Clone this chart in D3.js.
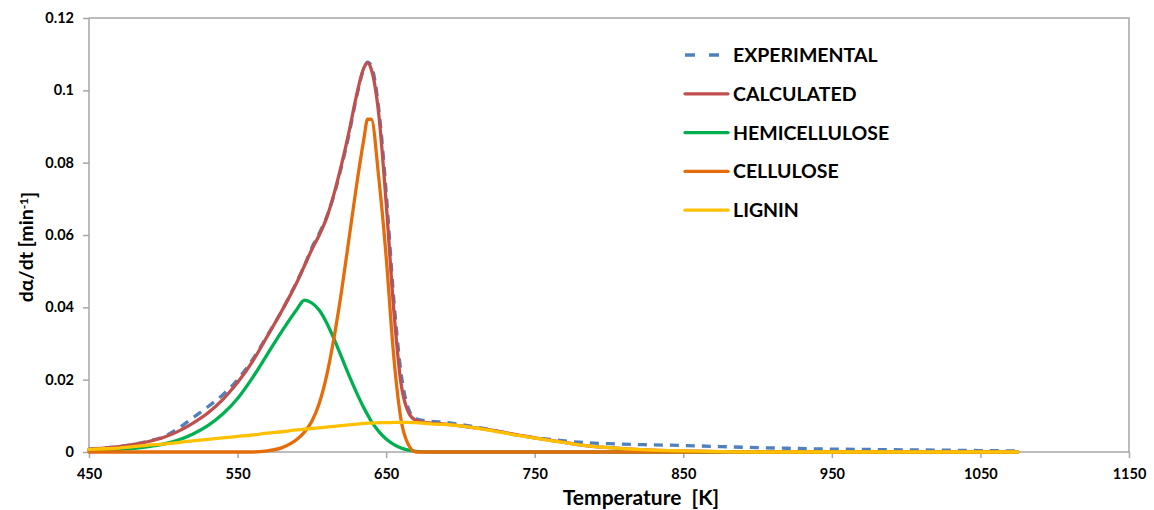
<!DOCTYPE html>
<html>
<head>
<meta charset="utf-8">
<script src="https://cdn.jsdelivr.net/npm/d3@7"></script>
<style>
body { margin: 0; background: #fff; }
text { font-family: Lato, "Liberation Sans", sans-serif; font-weight: bold; fill: #000; }
</style>
</head>
<body>
<div id="chart"></div>
<script>
// temperatures [K] shared by all series
var temps = [450,460,470,480,490,500,510,520,530,540,550,560,570,580,590,595,600,605,610,615,620,625,630,635,637.5,640,645,650,655,660,665,670,680,690,700,720,740,760,780,800,825,850,875,900,925,950,975,1000,1025,1050,1075];

var experimental = [0.0008,0.0011,0.0015,0.0021,0.0030,0.0042,0.0065,0.0095,0.0125,0.0158,0.0200,0.0255,0.0322,0.0392,0.0472,0.0515,0.0565,0.0605,0.0650,0.0712,0.0790,0.0878,0.0980,0.1060,0.1078,0.1068,0.0950,0.0720,0.0430,0.0220,0.0120,0.0092,0.0085,0.0082,0.0076,0.0062,0.0045,0.0035,0.0027,0.0023,0.0020,0.0018,0.0015,0.0012,0.0010,0.0008,0.0007,0.0006,0.0005,0.0004,0.0003];

var calculated = [0.0008,0.0011,0.0015,0.0021,0.0029,0.0040,0.0057,0.0080,0.0108,0.0145,0.0192,0.0250,0.0320,0.0392,0.0470,0.0515,0.0560,0.0600,0.0648,0.0715,0.0795,0.0885,0.0985,0.1062,0.1076,0.1058,0.0935,0.0690,0.0400,0.0190,0.0110,0.0088,0.0080,0.0077,0.0072,0.0061,0.0046,0.0033,0.0020,0.0012,0.0006,0.0003,0.0001,0,0,0,0,0,0,0,0];

var hemicellulose = [0.0004,0.0005,0.0007,0.0010,0.0015,0.0022,0.0033,0.0050,0.0073,0.0105,0.0148,0.0205,0.0270,0.0335,0.0395,0.0420,0.0412,0.0392,0.0357,0.0312,0.0262,0.0212,0.0165,0.0122,0.0103,0.0085,0.0057,0.0036,0.0021,0.0011,0.0005,0.0002,0,0,0,0,0,0,0,0,0,0,0,0,0,0,0,0,0,0,0];

var cellulose = [0,0,0,0,0,0,0,0,0,0,0,0,0.0003,0.0012,0.0035,0.0055,0.0085,0.0135,0.0212,0.0318,0.0445,0.0590,0.0735,0.0865,0.0920,0.0920,0.0760,0.0540,0.0270,0.0090,0.0020,0,0,0,0,0,0,0,0,0,0,0,0,0,0,0,0,0,0,0,0];

var lignin = [0.0007,0.0009,0.0011,0.0015,0.0019,0.0022,0.0026,0.0031,0.0035,0.0039,0.0043,0.0047,0.0052,0.0056,0.0061,0.0063,0.0065,0.0067,0.0069,0.0071,0.0073,0.0075,0.0077,0.0079,0.0080,0.0080,0.0081,0.0081,0.0082,0.0082,0.0082,0.0081,0.0078,0.0076,0.0072,0.0060,0.0045,0.0032,0.0020,0.0012,0.0006,0.0003,0.0001,0,0,0,0,0,0,0,0];

var seriesNames = ["EXPERIMENTAL","CALCULATED","HEMICELLULOSE","CELLULOSE","LIGNIN"];
var seriesColors = ["#4F81BD","#C0504D","#00B050","#E46C0A","#FFC000"];
var xTicks = [450,550,650,750,850,950,1050,1150];
var yTicks = [0,0.02,0.04,0.06,0.08,0.1,0.12];

function init(){

    var w = 1154;
    var h = 510;
    var left = 89, top = 18, right = 1129, bottom = 452;

    var svg = d3.select("#chart")
        .append("svg")
        .attr("width", w)
        .attr("height", h);

    var x = d3.scaleLinear().domain([450, 1150]).range([left, right]);
    var y = d3.scaleLinear().domain([0, 0.12]).range([bottom, top]);

    // plot border (top and right)
    svg.append("path")
        .attr("d", "M" + left + "," + top + "H" + right + "V" + bottom)
        .attr("fill", "none")
        .attr("stroke", "#A6A6A6")
        .attr("stroke-width", 1.5);

    var yAxis = svg.append("g")
        .attr("transform", "translate(" + left + ",0)")
        .call(d3.axisLeft(y).tickValues(yTicks).tickSize(6).tickPadding(9)
            .tickFormat(function(d){ return String(+d.toFixed(2)); }));

    var xAxis = svg.append("g")
        .attr("transform", "translate(0," + bottom + ")")
        .call(d3.axisBottom(x).tickValues(xTicks).tickSize(6).tickPadding(11)
            .tickFormat(d3.format("d")));

    [xAxis, yAxis].forEach(function(g){
        g.selectAll("path, line").attr("stroke", "#A6A6A6").attr("stroke-width", 1.5);
        g.selectAll("text").style("font-size", "14.5px").attr("fill", "#000");
    });
    // no outer stubs on the domain lines
    yAxis.select(".domain").attr("d", "M0," + top + "V" + bottom);
    xAxis.select(".domain").attr("d", "M" + left + ",0H" + right);

    var seriesData = [experimental, calculated, hemicellulose, cellulose, lignin];

    var line = d3.line()
        .x(function(d, i){ return x(temps[i]); })
        .y(function(d){ return y(d); })
        .curve(d3.curveMonotoneX);

    seriesData.forEach(function(vals, k){
        var p = svg.append("path")
            .datum(vals)
            .attr("d", line)
            .attr("fill", "none")
            .attr("stroke", seriesColors[k])
            .attr("stroke-width", 3.3)
            .attr("stroke-linejoin", "round")
            .attr("stroke-linecap", "round");
        if(k == 0){
            p.attr("stroke-dasharray", "9,7").attr("stroke-linecap", "butt");
        }
    });

    // legend
    var legend = svg.selectAll(".legend")
        .data(seriesNames)
        .enter()
        .append("g")
        .attr("transform", function(d, i){ return "translate(685," + (55 + i * 38.8) + ")"; });

    legend.append("line")
        .attr("x1", 0).attr("x2", 43)
        .attr("stroke", function(d, i){ return seriesColors[i]; })
        .attr("stroke-width", 3.3)
        .attr("stroke-linecap", function(d, i){ return i == 0 ? "butt" : "round"; })
        .attr("stroke-dasharray", function(d, i){ return i == 0 ? "10,14" : null; });

    legend.append("text")
        .attr("x", 48)
        .attr("dy", "0.36em")
        .style("font-size", "19.5px")
        .text(function(d){ return d; });

    // axis titles
    svg.append("text")
        .attr("x", 641)
        .attr("y", 505)
        .attr("text-anchor", "middle")
        .style("font-size", "21px")
        .text("Temperature\u00a0\u00a0[K]");

    var yt = svg.append("text")
        .attr("transform", "translate(33,247) rotate(-90)")
        .attr("text-anchor", "middle")
        .style("font-size", "19.5px");
    yt.append("tspan").text("dα/dt [min");
    yt.append("tspan").attr("dy", "-0.45em").style("font-size", "12px").text("-1");
    yt.append("tspan").attr("dy", "0.45em").text("]");
}
window.onload = init;
</script>
</body>
</html>
